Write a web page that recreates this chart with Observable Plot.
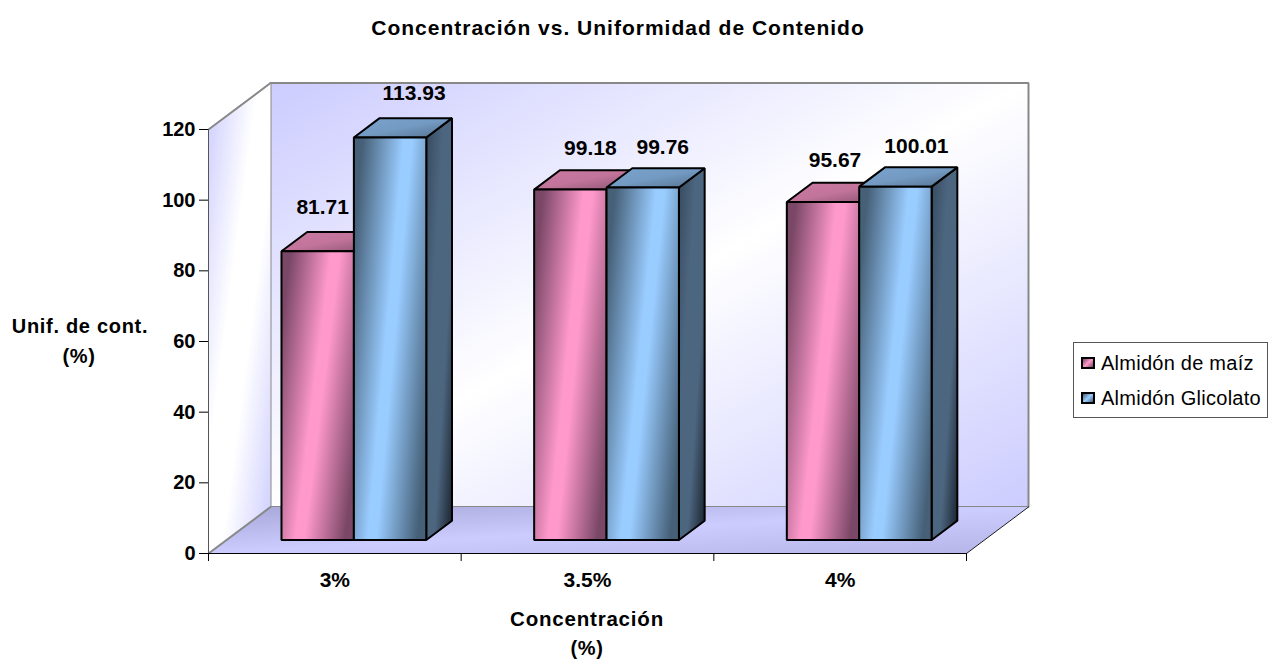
<!DOCTYPE html>
<html lang="es">
<head>
<meta charset="utf-8">
<script src="https://cdn.jsdelivr.net/npm/d3@7"></script>
<script src="https://cdn.jsdelivr.net/npm/@observablehq/plot@0.6"></script>
<style>
  html, body { margin: 0; padding: 0; background: #fff; }
  #page { position: relative; width: 1275px; height: 661px; overflow: hidden; font-family: "Liberation Sans", Arial, sans-serif; }
  #chart svg { display: block; }
  .caption { position: absolute; transform: translate(-50%, -50%); font-weight: bold; color: #000; white-space: nowrap; text-align: center; }
  #legend { position: absolute; left: 1073px; top: 342px; width: 193px; height: 74px; border: 1px solid #555; background: #fff; box-sizing: content-box; }
  #legend .row { position: absolute; left: 7px; display: flex; align-items: center; font-size: 20px; letter-spacing: 0.25px; line-height: 22px; color: #000; white-space: nowrap; }
  #legend .swatch { width: 10px; height: 8px; border: 2px solid #000; margin-right: 6px; }
</style>
</head>
<body>
<div id="page">
  <div id="chart"></div>
  <div id="legend"></div>
</div>
<script>
// Values
const categories = ["3%", "3.5%", "4%"];
const seriesNames = ["Almidón de maíz", "Almidón Glicolato"];
const maiz = [81.71, 99.18, 95.67];
const glicolato = [113.93, 99.76, 100.01];
const yTicks = [0, 20, 40, 60, 80, 100, 120];

const chartTitle = "Concentración vs. Uniformidad de Contenido";
const yTitle = ["Unif. de cont.", "(%)"];
const xTitle = ["Concentración", "(%)"];

// Oblique projection: a depth of 1 moves a point from the front plane to the back wall.
const depthX = 0.2454;
const depthY = 13.16;
const project = (x, v, d) => ({x: x + d * depthX, y: v + d * depthY});
const polygon = (key, corners) => corners.map(([x, v, d]) => ({key, ...project(x, v, d)}));

// Bar layout, in category units and depth fractions
const groupStart = 0.2177;
const barWidth = 0.2865;
const barFront = 0.29;
const barBack = 0.705;

function faces(values, slot) {
  const front = [], top = [], side = [];
  values.forEach((v, i) => {
    const x0 = i + groupStart + slot * barWidth;
    const x1 = x0 + barWidth;
    front.push(...polygon(`f${i}`, [[x0, 0, barFront], [x1, 0, barFront], [x1, v, barFront], [x0, v, barFront]]));
    top.push(...polygon(`t${i}`, [[x0, v, barFront], [x1, v, barFront], [x1, v, barBack], [x0, v, barBack]]));
    side.push(...polygon(`s${i}`, [[x1, 0, barFront], [x1, 0, barBack], [x1, v, barBack], [x1, v, barFront]]));
  });
  return {front, top, side};
}

const poly = (data, fill, stroke, strokeWidth) =>
  Plot.line(data, {x: "x", y: "y", z: "key", curve: "linear-closed", fill, stroke, strokeWidth, strokeLinejoin: "miter"});

const barMarks = (values, slot, tag) => {
  const f = faces(values, slot);
  return [
    poly(f.side, `url(#${tag}Side)`, "#000", 2),
    poly(f.top, `url(#${tag}Top)`, "#000", 2),
    poly(f.front, `url(#${tag}Front)`, "#000", 2)
  ];
};

// Gradients shared by the walls, floor and bars
const stops = (list) => list.map(([o, c]) => `<stop offset="${o}" stop-color="${c}"/>`).join("");
const diagonal = (id, list) => `<linearGradient id="${id}" x1="0" y1="0" x2="1" y2="1">${stops(list)}</linearGradient>`;
// Front faces shade at a steeper angle, so the bright band stays close to upright
const steep = (id, list) => `<linearGradient id="${id}" x1="0" y1="0.25" x2="1" y2="0.75">${stops(list)}</linearGradient>`;
const gradientDefs = () => {
  const node = document.createElementNS("http://www.w3.org/2000/svg", "defs");
  node.innerHTML = [
    diagonal("wall", [[0, "#ccccff"], [0.5, "#ffffff"], [1, "#ccccff"]]),
    diagonal("leftWall", [[0, "#ccccff"], [0.4, "#ffffff"], [0.6, "#ffffff"], [1, "#ccccff"]]),
    diagonal("floor", [[0, "#a6a6d9"], [0.5, "#ccccff"], [1, "#b4b4e6"]]),
    steep("pinkFront", [[0, "#7a4766"], [0.45, "#ff99cc"], [0.55, "#ff99cc"], [1, "#7a4766"]]),
    diagonal("pinkTop", [[0, "#cc7aa3"], [0.5, "#c2749b"], [1, "#8a5270"]]),
    diagonal("pinkSide", [[0, "#5c3a4d"], [0.5, "#804d66"], [1, "#3d2633"]]),
    steep("blueFront", [[0, "#466078"], [0.45, "#99ccff"], [0.55, "#99ccff"], [1, "#466078"]]),
    diagonal("blueTop", [[0, "#7aa3cc"], [0.5, "#739ac2"], [1, "#54708c"]]),
    diagonal("blueSide", [[0, "#364a5e"], [0.35, "#4d6680"], [0.65, "#4d6680"], [1, "#18212b"]])
  ].join("");
  return node;
};

// Corners of the chart box: x in categories, v in axis units, d in depth
const backWall = polygon("back", [[0, 0, 1], [3, 0, 1], [3, 120, 1], [0, 120, 1]]);
const sideWall = polygon("side", [[0, 0, 0], [0, 0, 1], [0, 120, 1], [0, 120, 0]]);
const floor = polygon("floor", [[0, 0, 0], [3, 0, 0], [3, 0, 1], [0, 0, 1]]);
const sideWallEdges = polygon("e", [[0, 120, 0], [0, 120, 1]]);
const floorLeftEdge = polygon("l", [[0, 0, 0], [0, 0, 1]]);
const floorRightEdge = polygon("r", [[3, 0, 0], [3, 0, 1]]);

// Hand-placed value labels: pixel nudge from the top of each bar
const labelNudge = [
  [[5, -44], [24, -44]],
  [[20, -41], [20, -40]],
  [[12, -42], [21, -40]]
];
const valueLabels = [maiz, glicolato].flatMap((values, slot) =>
  values.map((v, i) => {
    const x = i + groupStart + (slot + 0.5) * barWidth;
    const [dx, dy] = labelNudge[i][slot];
    return Plot.text([v], {
      ...project(x, v, barFront),
      text: (d) => d.toFixed(2),
      dx, dy,
      fontSize: 21, fontWeight: "bold", fill: "#000"
    });
  })
);

const plot = Plot.plot({
  width: 1275,
  height: 661,
  marginLeft: 208,
  marginRight: 309,
  marginTop: 129,
  marginBottom: 108,
  style: {fontFamily: "'Liberation Sans', Arial, sans-serif", background: "#fff", overflow: "visible"},
  x: {type: "linear", domain: [0, 3]},
  y: {type: "linear", domain: [0, 120]},
  marks: [
    gradientDefs,
    poly(backWall, "url(#wall)", "#888", 2),
    poly(sideWall, "url(#leftWall)", "none", 0),
    poly(floor, "url(#floor)", "none", 0),
    Plot.line(sideWallEdges, {x: "x", y: "y", stroke: "#888", strokeWidth: 2}),
    Plot.line(floorLeftEdge, {x: "x", y: "y", stroke: "#888", strokeWidth: 2}),
    Plot.line(floorRightEdge, {x: "x", y: "y", stroke: "#222", strokeWidth: 1}),
    ...barMarks(maiz, 0, "pink"),
    ...barMarks(glicolato, 1, "blue"),
    ...valueLabels,
    Plot.ruleX([0], {stroke: "#555", strokeWidth: 1}),
    Plot.axisY({ticks: yTicks, tickSize: 9, tickPadding: 4, tickFormat: (d) => d, label: null, fontSize: 20, fontWeight: "bold", stroke: "#000", strokeWidth: 1, fill: "#000"}),
    Plot.axisX({ticks: [0, 1, 2, 3], tickSize: 8, tickFormat: () => "", label: null, stroke: "#000", strokeWidth: 1}),
    Plot.axisX({ticks: [0.5, 1.5, 2.5], tickSize: 0, tickPadding: 19, tickFormat: (d) => categories[Math.floor(d)], label: null, fontSize: 21, fontWeight: "bold", fill: "#000"}),
    Plot.ruleY([0], {stroke: "#000", strokeWidth: 1})
  ]
});
document.getElementById("chart").appendChild(plot);

// Title and axis titles are positioned by their centres
const page = d3.select("#page");
const caption = (text, cx, cy, size, spacing) =>
  page.append("div").attr("class", "caption")
    .style("left", `${cx}px`).style("top", `${cy}px`)
    .style("font-size", `${size}px`).style("letter-spacing", `${spacing}px`)
    .text(text);
caption(chartTitle, 618, 28, 21, 1);
caption(yTitle[0], 80, 326, 20, 0.7);
caption(yTitle[1], 79, 356, 20, 0.6);
caption(xTitle[0], 587, 619, 20.5, 0.8);
caption(xTitle[1], 587, 648, 20, 0.6);

// Legend sits to the right of the plot
const swatchCss = [
  "linear-gradient(135deg,#7a4766,#ff99cc 50%,#7a4766)",
  "linear-gradient(135deg,#466078,#99ccff 50%,#466078)"
];
const legend = d3.select("#legend");
seriesNames.forEach((name, i) => {
  const row = legend.append("div").attr("class", "row").style("top", i === 0 ? "9px" : "44px");
  row.append("div").attr("class", "swatch").style("background", swatchCss[i]);
  row.append("span").text(name);
});
</script>
</body>
</html>
